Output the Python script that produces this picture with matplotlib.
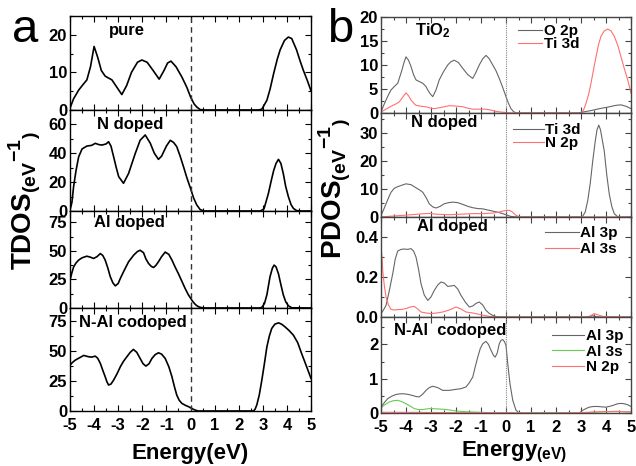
import matplotlib
matplotlib.use("Agg")
import matplotlib.pyplot as plt
from matplotlib.ticker import MultipleLocator

plt.rcParams['font.family'] = ['Liberation Sans', 'DejaVu Sans']
plt.rcParams['font.weight'] = 'bold'
plt.rcParams['mathtext.fontset'] = 'custom'
plt.rcParams['mathtext.rm'] = 'Liberation Sans:bold'
plt.rcParams['mathtext.bf'] = 'Liberation Sans:bold'
plt.rcParams['mathtext.it'] = 'Liberation Sans:bold'

# ---------------- data (a) TDOS ----------------
pure_E = [-5.0, -4.85, -4.64, -4.43, -4.3, -4.15, -4.0, -3.85, -3.7, -3.54, -3.4, -3.26, -3.05, -2.85,
          -2.65, -2.45, -2.2, -2.02, -1.8, -1.55, -1.3, -1.1, -0.95, -0.81, -0.6, -0.36, -0.15, 0.0,
          0.15, 0.26, 0.4, 0.6, 2.8, 2.96, 3.17, 3.3, 3.45, 3.6, 3.72, 3.9, 4.06, 4.2, 4.4, 4.55,
          4.68, 4.85, 5.0]
pure_D = [0.5, 3, 5.3, 7, 8, 11.5, 16.9, 14, 10.5, 9, 8.5, 8, 6, 4.1,
          6.5, 10, 12.7, 13.3, 12.7, 10.5, 8.2, 10.5, 12.5, 13, 11.5, 8.8, 6, 3.5,
          1.6, 0.8, 0.1, 0, 0, 0.2, 2.6, 5.5, 9.7, 13.5, 16, 18.5, 19.4, 19.0, 16, 13,
          10.6, 7.8, 5.1]

ndop_E = [-5.0, -4.92, -4.85, -4.75, -4.64, -4.5, -4.3, -4.1, -3.95, -3.8, -3.67, -3.5, -3.4, -3.3,
          -3.19, -3.08, -2.98, -2.78, -2.57, -2.43, -2.29, -2.09, -1.88, -1.67, -1.5, -1.33, -1.2,
          -1.0, -0.84, -0.7, -0.57, -0.43, -0.29, -0.15, 0.0, 0.13, 0.26, 0.4, 0.55, 2.9, 3.05,
          3.23, 3.35, 3.45, 3.55, 3.65, 3.75, 3.85, 3.95, 4.06, 4.17, 4.27, 4.4, 4.6, 5.0]
ndop_D = [0.7, 6, 17, 28, 37.6, 43, 45, 45.5, 46.9, 46, 45.7, 46.5, 48, 45,
          37.6, 30, 23.8, 19.2, 26, 33, 40, 49, 52.7, 47, 40, 35.8, 38,
          45, 49, 47.5, 44.6, 38, 30.7, 23, 15.7, 9, 4.2, 1, 0, 0, 1.5,
          12, 21, 28, 33, 35.8, 33, 26, 17, 10, 4.5, 1.8, 0.3, 0, 0]

aldop_E = [-5.0, -4.92, -4.85, -4.75, -4.64, -4.5, -4.3, -4.15, -4.02, -3.88, -3.74, -3.64, -3.54,
           -3.43, -3.33, -3.22, -3.12, -3.0, -2.91, -2.75, -2.57, -2.35, -2.2, -2.09, -1.95, -1.85,
           -1.74, -1.63, -1.53, -1.43, -1.33, -1.2, -1.05, -0.9, -0.77, -0.64, -0.5, -0.36, -0.22,
           -0.1, 0.0, 0.1, 0.21, 0.3, 0.4, 0.55, 2.85, 2.96, 3.07, 3.17, 3.3, 3.4, 3.47, 3.55, 3.65,
           3.75, 3.85, 3.95, 4.06, 4.2, 5.0]
aldop_D = [24.6, 31, 36, 39.5, 42, 44, 45.4, 44.5, 43.4, 45, 47.7, 46, 42,
           35, 27.5, 22, 19.4, 21.5, 26, 33, 40.5, 46.5, 49.5, 50.6, 48.5, 43,
           39, 36.5, 35.5, 37.5, 40.5, 45, 49, 47, 42, 36, 30, 23.5, 17,
           12, 8.7, 5.5, 2.9, 1.5, 0.6, 0, 0, 0.5, 4, 11.6, 27.5, 35, 37.6, 36, 30,
           20.5, 11.6, 5.5, 2, 0.2, 0]

co_E = [-5.0, -4.9, -4.78, -4.6, -4.43, -4.23, -4.1, -3.95, -3.85, -3.74, -3.64, -3.54, -3.47, -3.4,
        -3.3, -3.19, -3.05, -2.91, -2.78, -2.64, -2.5, -2.37, -2.23, -2.09, -1.97, -1.85, -1.72,
        -1.6, -1.47, -1.33, -1.2, -1.05, -0.9, -0.77, -0.67, -0.57, -0.47, -0.36, -0.22, -0.08,
        0.02, 0.12, 0.22, 0.33, 0.45, 2.5, 2.61, 2.68, 2.75, 2.85, 2.96, 3.07, 3.17, 3.27, 3.37,
        3.5, 3.65, 3.78, 3.92, 4.1, 4.27, 4.45, 4.61, 4.8, 5.0]
co_D = [38.3, 40.5, 42.5, 44.5, 46.4, 45.3, 45, 45.8, 44, 39.7, 34, 28.6, 24.5, 21.7,
        22.5, 25.8, 31, 37, 41.5, 45.3, 49, 51.4, 49, 43.9, 39.5, 37.5, 39.5,
        43.9, 47, 48.6, 47.5, 43.9, 37, 28.6, 20.5, 13.3, 9, 6.4, 4.8, 3.6,
        2.5, 1.4, 0.6, 0, 0, 0, 0, 1.5, 5, 13, 25.8, 40, 53.6, 62.5, 68.9,
        72.5, 73.6, 72.5, 70.3, 67, 63.3, 57, 48, 38, 27.2]

# ---------------- data (b) PDOS ----------------
tio2_o2p_E = [-5.0, -4.9, -4.8, -4.7, -4.6, -4.45, -4.33, -4.25, -4.16, -4.08, -4.0, -3.9, -3.8, -3.7,
              -3.6, -3.45, -3.33, -3.2, -3.13, -3.03, -2.93, -2.8, -2.67, -2.5, -2.33, -2.2, -2.07,
              -1.9, -1.73, -1.53, -1.33, -1.2, -1.07, -0.93, -0.8, -0.67, -0.53, -0.4, -0.27, -0.13,
              0.0, 0.1, 0.2, 0.3, 0.4, 0.55, 2.9, 3.07, 3.4, 3.73, 4.05, 4.4, 4.6, 4.8, 5.0]
tio2_o2p_D = [0.2, 1.5, 2.7, 3.8, 4.8, 5.6, 6.2, 7.5, 9, 10.5, 11.7, 11, 9.7, 8,
              6.9, 6.5, 6.2, 5.5, 4.8, 4, 3.4, 4.8, 6.9, 8.6, 10, 10.7, 11,
              10.5, 9.3, 8, 7.2, 8.5, 10, 11.3, 12, 11.3, 10, 8.8, 7.2, 5.3,
              3.4, 2, 0.9, 0.3, 0, 0, 0, 0.2, 0.5, 0.9, 1.2, 1.6, 1.7, 1.4, 0.9]
tio2_ti3d_E = [-5.0, -4.8, -4.6, -4.4, -4.27, -4.13, -4.0, -3.9, -3.8, -3.7, -3.6, -3.4, -3.2, -3.0,
               -2.87, -2.67, -2.47, -2.3, -2.13, -1.93, -1.73, -1.53, -1.33, -1.07, -0.8, -0.6, -0.4,
               -0.2, 0.0, 0.2, 2.9, 3.0, 3.1, 3.2, 3.3, 3.4, 3.5, 3.6, 3.7, 3.8, 3.93, 4.07, 4.2, 4.33,
               4.47, 4.6, 4.73, 4.87, 5.0]
tio2_ti3d_D = [0.2, 0.8, 1.4, 1.9, 2.3, 3.3, 4.2, 3.6, 2.7, 2.1, 1.6, 1.4, 1.3, 1.0,
               0.9, 1.1, 1.3, 1.5, 1.5, 1.4, 1.3, 1.0, 0.8, 0.8, 0.8, 0.6, 0.35,
               0.2, 0.1, 0, 0, 0, 0.6, 2, 3.8, 6.2, 9, 11.7, 14.2, 16, 17.1, 17.5, 17.1, 16,
               14.1, 11.7, 9.3, 6.9, 4.1]

n_ti3d_E = [-5.0, -4.9, -4.8, -4.7, -4.6, -4.47, -4.33, -4.17, -4.0, -3.8, -3.6, -3.47, -3.33, -3.2,
            -3.07, -2.93, -2.8, -2.63, -2.47, -2.3, -2.13, -1.93, -1.73, -1.53, -1.33, -1.13, -0.93,
            -0.73, -0.53, -0.33, -0.13, 0.03, 0.2, 0.4, 3.0, 3.07, 3.17, 3.27, 3.37, 3.47, 3.57, 3.64,
            3.71, 3.78, 3.85, 3.93, 4.03, 4.13, 4.23, 4.33, 4.45, 4.6, 5.0]
n_ti3d_D = [0.6, 2.5, 4.7, 6.8, 8.8, 10.2, 10.8, 11.3, 11.8, 11.5, 10.4, 9.7, 8.8, 7,
            4.7, 3.6, 3.2, 3.8, 4.7, 5.1, 5.3, 5.1, 4.5, 3.8, 3.3, 3.0, 2.9,
            2.5, 2.1, 1.7, 1.2, 0.7, 0.2, 0, 0, 0.3, 1.8, 5.9, 12, 20, 27, 31,
            32.7, 31, 27.5, 23.5, 15, 8.2, 3.8, 1.2, 0.2, 0, 0]
n_n2p_E = [-5.0, -4.6, -4.27, -3.8, -3.4, -3.07, -2.8, -2.27, -1.8, -1.33, -0.9, -0.53, -0.3, -0.13,
           0.0, 0.13, 0.25, 0.4, 0.5, 0.6, 1.0, 5.0]
n_n2p_D = [0.0, 0.3, 0.5, 0.8, 1.1, 1.3, 1.0, 0.8, 1.0, 1.2, 1.2, 1.4, 1.7, 2.1,
           2.3, 2.4, 1.8, 0.6, 0.2, 0, 0, 0]

al_al3p_E = [-5.0, -4.9, -4.8, -4.67, -4.53, -4.43, -4.33, -4.2, -4.07, -3.93, -3.8, -3.7, -3.6, -3.5,
             -3.4, -3.27, -3.13, -3.0, -2.87, -2.73, -2.6, -2.47, -2.33, -2.2, -2.07, -1.93, -1.8,
             -1.63, -1.47, -1.33, -1.2, -1.07, -0.93, -0.8, -0.67, -0.53, -0.4, -0.27, 3.2, 3.47,
             3.7, 5.0]
al_al3p_D = [0.017, 0.035, 0.058, 0.13, 0.217, 0.29, 0.33, 0.338, 0.34, 0.338, 0.342, 0.33, 0.3, 0.24,
             0.167, 0.11, 0.083, 0.1, 0.133, 0.16, 0.175, 0.17, 0.153, 0.155, 0.158, 0.14, 0.108,
             0.075, 0.05, 0.055, 0.068, 0.075, 0.06, 0.033, 0.018, 0.008, 0.002, 0.0, 0.0, 0.006,
             0.0, 0.0]
al_al3s_E = [-5.0, -4.96, -4.93, -4.87, -4.8, -4.7, -4.6, -4.47, -4.33, -4.17, -4.0, -3.83, -3.67, -3.53,
             -3.4, -3.2, -3.0, -2.77, -2.53, -2.27, -2.0, -1.8, -1.6, -1.33, -1.07, -0.87, -0.67, -0.4,
             3.3, 3.43, 3.53, 3.65, 3.87, 5.0]
al_al3s_D = [0.35, 0.3, 0.23, 0.16, 0.1, 0.06, 0.038, 0.035, 0.037, 0.038, 0.042, 0.05, 0.053, 0.04,
             0.025, 0.02, 0.017, 0.02, 0.025, 0.035, 0.05, 0.04, 0.025, 0.02, 0.013, 0.008, 0.003, 0.0,
             0.0, 0.01, 0.017, 0.012, 0.003, 0.0]

co_al3p_E = [-5.0, -4.87, -4.73, -4.57, -4.4, -4.23, -4.07, -3.9, -3.73, -3.6, -3.47, -3.33, -3.2, -3.07,
             -2.93, -2.73, -2.53, -2.27, -2.0, -1.8, -1.6, -1.47, -1.33, -1.23, -1.13, -1.03, -0.93,
             -0.8, -0.7, -0.6, -0.5, -0.43, -0.35, -0.27, -0.2, -0.13, -0.06, 0.0, 0.07, 0.16, 0.27,
             0.4, 0.53, 2.8, 2.93, 3.07, 3.2, 3.33, 3.5, 3.67, 3.83, 4.0, 4.23, 4.47, 4.6, 4.73, 4.87, 5.0]
co_al3p_D = [0.17, 0.3, 0.42, 0.49, 0.54, 0.56, 0.56, 0.54, 0.51, 0.48, 0.47, 0.55, 0.66, 0.74,
             0.78, 0.74, 0.66, 0.66, 0.69, 0.71, 0.76, 0.88, 1.05, 1.35, 1.63, 1.88, 2.02,
             2.09, 2.0, 1.83, 1.68, 1.63, 1.75, 2.02, 2.12, 2.14, 2.08, 1.97, 1.44, 0.85, 0.37,
             0.08, 0.0, 0.0, 0.0, 0.08, 0.13, 0.17, 0.19, 0.19, 0.18, 0.17, 0.21, 0.27, 0.28, 0.27, 0.24, 0.19]
co_al3s_E = [-5.0, -4.83, -4.67, -4.5, -4.33, -4.17, -4.0, -3.83, -3.67, -3.5, -3.33, -3.17, -3.0, -2.77,
             -2.53, -2.27, -2.0, -1.67, -1.33, -1.0, -0.67, -0.4, 3.0, 3.73, 4.4, 5.0]
co_al3s_D = [0.15, 0.25, 0.32, 0.36, 0.37, 0.33, 0.27, 0.2, 0.13, 0.1, 0.1, 0.12, 0.13, 0.12,
             0.11, 0.09, 0.06, 0.04, 0.03, 0.02, 0.01, 0.0, 0.0, 0.03, 0.05, 0.03]
co_n2p_E = [-5.0, -4.0, -3.0, -2.0, -1.0, 0.0, 1.0, 2.0, 3.0, 3.5, 4.0, 4.5, 5.0]
co_n2p_D = [0.02, 0.02, 0.015, 0.01, 0.01, 0.01, 0.0, 0.0, 0.01, 0.03, 0.04, 0.04, 0.03]

left_titles = ["pure", "N doped", "Al doped", "N-Al codoped"]
right_titles = ["TiO$_2$", "N doped", "Al doped", "N-Al  codoped"]
xticks = [-5, -4, -3, -2, -1, 0, 1, 2, 3, 4, 5]

# ---------------- figure ----------------
W, H = 636, 466
fig = plt.figure(figsize=(W / 100, H / 100), dpi=100)


def rect(x0, y0, x1, y1):
    return [x0 / W, 1 - y1 / H, (x1 - x0) / W, (y1 - y0) / H]


def ftxt(x, y, s, **kw):
    fig.text(x / W, 1 - y / H, s, ha='center', va='center', **kw)


left_rows = [(16, 110), (110, 211), (211, 308), (308, 411)]
right_rows = [(17, 113), (113, 217), (217, 317), (317, 413)]
left_ylim = [25, 70, 85, 86]
left_major = [10, 20, 25, 25]
left_minor = [5, 10, 12.5, 12.5]
right_ylim = [20, 37, 0.5, 2.8]
right_major = [5, 10, 0.2, 1]
right_minor = [2.5, 5, 0.1, 0.5]

left_data = [(pure_E, pure_D), (ndop_E, ndop_D), (aldop_E, aldop_D), (co_E, co_D)]

gray = '#666666'
red = '#ff7070'
green = '#66cc55'


def style(ax, last, color, major, minor):
    ax.set_xlim(-5, 5)
    ax.xaxis.set_major_locator(MultipleLocator(1))
    ax.xaxis.set_minor_locator(MultipleLocator(0.5))
    ax.yaxis.set_major_locator(MultipleLocator(major))
    ax.yaxis.set_minor_locator(MultipleLocator(minor))
    ax.tick_params(which='both', direction='in', top=True, right=True, colors=color,
                   labelcolor='black', labelsize=12, width=0.8)
    ax.tick_params(which='major', length=4, pad=2)
    ax.tick_params(which='minor', length=2)
    ax.tick_params(axis='x', pad=5)
    for s in ax.spines.values():
        s.set_color(color)
        s.set_linewidth(1.0)
    if not last:
        ax.tick_params(axis='x', labelbottom=False)
    else:
        ax.set_xticks(xticks)
        ax.set_xticklabels([str(t) for t in xticks])
    for lab in ax.get_xticklabels() + ax.get_yticklabels():
        lab.set_fontweight('bold')


for i, (r0, r1) in enumerate(left_rows):
    ax = fig.add_axes(rect(70, r0, 311, r1))
    E, D = left_data[i]
    ax.plot(E, D, color='black', lw=1.2)
    ax.axvline(0, color='#333333', lw=1.0, ls=(0, (4, 3)))
    ax.set_ylim(0, left_ylim[i])
    style(ax, i == 3, 'black', left_major[i], left_minor[i])

right_data = [
    [(tio2_o2p_E, tio2_o2p_D, gray, "O 2p"), (tio2_ti3d_E, tio2_ti3d_D, red, "Ti 3d")],
    [(n_ti3d_E, n_ti3d_D, gray, "Ti 3d"), (n_n2p_E, n_n2p_D, red, "N 2p")],
    [(al_al3p_E, al_al3p_D, gray, "Al 3p"), (al_al3s_E, al_al3s_D, red, "Al 3s")],
    [(co_al3p_E, co_al3p_D, gray, "Al 3p"), (co_al3s_E, co_al3s_D, green, "Al 3s"),
     (co_n2p_E, co_n2p_D, red, "N 2p")],
]
leg_pos = [(518, 24), (513, 123), (545, 226), (552, 329)]
leg_hl = [1.6, 2.0, 2.2, 2.1]
leg_sp = [-0.05, -0.05, 0.15, 0.1]

for i, (r0, r1) in enumerate(right_rows):
    ax = fig.add_axes(rect(381, r0, 631, r1))
    for E, D, c, lab in right_data[i]:
        ax.plot(E, D, color=c, lw=0.8, label=lab)
    ax.axvline(0, color='#888888', lw=0.8, ls=(0, (1, 1)))
    ax.set_ylim(0, right_ylim[i])
    style(ax, i == 3, '#444444', right_major[i], right_minor[i])
    if i == 2:
        ax.yaxis.set_major_formatter(plt.FormatStrFormatter('%.1f'))
        for lab in ax.get_yticklabels():
            lab.set_fontweight('bold')
    lx, ly = leg_pos[i]
    ax.legend(loc='upper left', bbox_to_anchor=(lx / W, 1 - ly / H), bbox_transform=fig.transFigure,
              frameon=False, borderpad=0, borderaxespad=0, handlelength=leg_hl[i],
              handletextpad=0.1, labelspacing=leg_sp[i],
              prop={'family': 'Liberation Sans', 'weight': 'bold', 'size': 11})

# panel titles
left_tpos = [(127, 30), (130, 125), (129, 223), (133, 322)]
for t, (x, y) in zip(left_titles, left_tpos):
    ftxt(x, y, t, fontsize=12, fontweight='bold')
right_tpos = [(433, 31), (444, 123), (452, 226), (450, 330)]
for t, (x, y) in zip(right_titles, right_tpos):
    ftxt(x, y, t, fontsize=12, fontweight='bold')

# axis labels
ftxt(25, 200, r"TDOS$_{\mathbf{(eV}}{}^{\mathbf{-1}}{}_{\mathbf{)}}$", fontsize=20,
     fontweight='bold', rotation=90)
ftxt(335, 189, r"PDOS$_{\mathbf{(eV}}{}^{\mathbf{-1}}{}_{\mathbf{)}}$", fontsize=20,
     fontweight='bold', rotation=90)
ftxt(190, 453, "Energy(eV)", fontsize=16, fontweight='bold')
ftxt(514, 452, r"Energy$_{\mathbf{(eV)}}$", fontsize=16, fontweight='bold')

# panel letters
ftxt(25, 30, "a", fontsize=34, fontweight='normal')
ftxt(340, 30, "b", fontsize=34, fontweight='normal')

fig.savefig("out.png", dpi=100)
